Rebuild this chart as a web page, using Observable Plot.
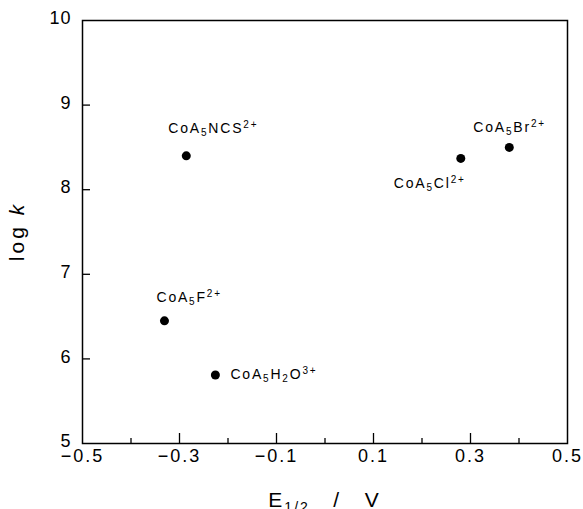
<!DOCTYPE html>
<html>
<head>
<meta charset="utf-8">
<script src="https://cdn.jsdelivr.net/npm/d3@7"></script>
<script src="https://cdn.jsdelivr.net/npm/@observablehq/plot@0.6"></script>
<style>
  html, body { margin: 0; padding: 0; background: #fff; }
  svg { font-family: "Liberation Sans", Arial, sans-serif; }
</style>
</head>
<body>
<div id="chart"></div>
<script>
const complexes = ["CoA₅NCS²⁺", "CoA₅F²⁺", "CoA₅H₂O³⁺", "CoA₅Cl²⁺", "CoA₅Br²⁺"];
const e12 = [-0.286, -0.331, -0.226, 0.280, 0.380];
const logk = [8.40, 6.45, 5.81, 8.37, 8.50];
const xMajorTicks = [-0.5, -0.3, -0.1, 0.1, 0.3, 0.5];
const xMinorTicks = [-0.4, -0.2, 0.0, 0.2, 0.4];
const yTicks = [5, 6, 7, 8, 9, 10];

const data = complexes.map((name, i) => ({name, x: e12[i], y: logk[i]}));
const pick = (name) => data.filter(d => d.name === name);

const W = 583, H = 509;
const labelStyle = {x: "x", y: "y", text: "name", textAnchor: "start", fontSize: 14, fill: "#000"};

const plot = Plot.plot({
  width: W,
  height: H,
  marginLeft: 82,
  marginRight: 16,
  marginTop: 20,
  marginBottom: 66,
  style: {fontFamily: '"Liberation Sans", Arial, sans-serif', background: "#fff"},
  x: {domain: [-0.5, 0.5]},
  y: {domain: [5, 10]},
  marks: [
    Plot.frame({stroke: "#000", strokeWidth: 1.5}),
    Plot.ruleX(xMajorTicks.slice(1, -1), {x: d => d, stroke: "#000", strokeWidth: 1.3, insetTop: 413}),
    Plot.ruleX(xMinorTicks, {x: d => d, stroke: "#000", strokeWidth: 1.3, insetTop: 418}),
    Plot.ruleY(yTicks.slice(1, -1), {y: d => d, stroke: "#000", strokeWidth: 1.3, insetRight: 477}),
    Plot.axisX({ticks: xMajorTicks, tickSize: 0, tickPadding: 6, fontSize: 18, tickFormat: d => d3.format(".1f")(d).replace("-", "−"), label: null}),
    Plot.axisY({ticks: yTicks, tickSize: 0, tickPadding: 11, fontSize: 18, tickFormat: d => String(d), label: null, dy: -2}),
    Plot.dot(data, {x: "x", y: "y", r: 4.5, fill: "#000", stroke: "none"}),
    Plot.text(pick("CoA₅NCS²⁺"), {...labelStyle, dx: -18, dy: -27}),
    Plot.text(pick("CoA₅F²⁺"), {...labelStyle, dx: -8, dy: -23}),
    Plot.text(pick("CoA₅H₂O³⁺"), {...labelStyle, dx: 15, dy: 0}),
    Plot.text(pick("CoA₅Cl²⁺"), {...labelStyle, dx: -67, dy: 25}),
    Plot.text(pick("CoA₅Br²⁺"), {...labelStyle, dx: -36, dy: -20})
  ]
});

document.getElementById("chart").appendChild(plot);

const svg = d3.select(plot);

// Wider letter spacing for tick labels
svg.selectAll("g[aria-label='x-axis tick label'] text").style("letter-spacing", "2px");
svg.selectAll("g[aria-label='y-axis tick label'] text").style("letter-spacing", "1px");

// Turn Unicode sub/superscript characters into real tspans
const subMap = {"₀":"0","₁":"1","₂":"2","₃":"3","₄":"4","₅":"5","₆":"6","₇":"7","₈":"8","₉":"9"};
const supMap = {"⁰":"0","¹":"1","²":"2","³":"3","⁴":"4","⁵":"5","⁶":"6","⁷":"7","⁸":"8","⁹":"9","⁺":"+","⁻":"−"};
svg.selectAll("text").each(function() {
  const el = d3.select(this);
  if (el.selectAll("tspan").size() > 0) return;
  const s = el.text();
  if (!complexes.includes(s)) return;
  el.text(null).style("letter-spacing", "1.8px");
  let mode = "n", buf = "";
  const flush = () => {
    if (!buf) return;
    const t = el.append("tspan").text(buf);
    if (mode === "sub") t.attr("font-size", 10).attr("baseline-shift", "-3");
    if (mode === "sup") t.attr("font-size", 10).attr("baseline-shift", "5");
    buf = "";
  };
  for (const ch of s) {
    const m = subMap[ch] ? "sub" : supMap[ch] ? "sup" : "n";
    if (m !== mode) { flush(); mode = m; }
    buf += subMap[ch] || supMap[ch] || ch;
  }
  flush();
});

// Axis titles
const sx = plot.scale("x"), sy = plot.scale("y");
const cx = (sx.range[0] + sx.range[1]) / 2;
const cy = (sy.range[0] + sy.range[1]) / 2;

const xt = svg.append("text")
  .attr("x", cx).attr("y", 507)
  .attr("text-anchor", "middle")
  .attr("font-size", 21)
  .attr("fill", "#000")
  .attr("xml:space", "preserve")
  .style("letter-spacing", "2px");
xt.append("tspan").text("E");
xt.append("tspan").attr("font-size", 14).attr("baseline-shift", "-5").text("1/2");
xt.append("tspan").text("   /   V");

const yt = svg.append("text")
  .attr("transform", `translate(24,${cy}) rotate(-90)`)
  .attr("text-anchor", "middle")
  .attr("font-size", 21)
  .attr("fill", "#000")
  .attr("xml:space", "preserve")
  .style("letter-spacing", "3px");
yt.append("tspan").text("log ");
yt.append("tspan").attr("font-style", "italic").text("k");
</script>
</body>
</html>
